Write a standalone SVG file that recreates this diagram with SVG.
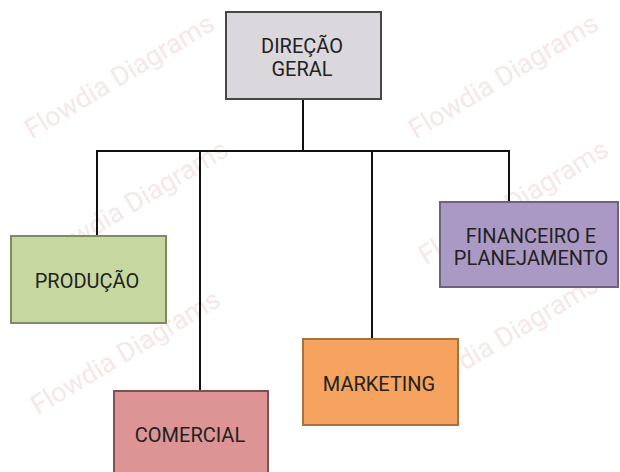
<svg xmlns="http://www.w3.org/2000/svg" width="620" height="472" viewBox="0 0 620 472">
  <style>
    .box { stroke-width: 2; }
    .label { font-family: Roboto, "Liberation Sans", sans-serif; font-size: 20px; fill: #222; text-anchor: middle; }
    .wm { font-family: Roboto, "Liberation Sans", sans-serif; font-size: 27px; fill: #efd6d6; text-anchor: middle; opacity: 0.55; }
    .conn { stroke: #111; stroke-width: 2; fill: none; stroke-linecap: square; }
  </style>
  <rect width="620" height="472" fill="#ffffff"/>

  <!-- background watermark -->
  <g id="watermark">
    <text class="wm" transform="translate(124 84) rotate(-31)">Flowdia Diagrams</text>
    <text class="wm" transform="translate(508 84) rotate(-31)">Flowdia Diagrams</text>
    <text class="wm" transform="translate(138 210) rotate(-31)">Flowdia Diagrams</text>
    <text class="wm" transform="translate(518 210) rotate(-31)">Flowdia Diagrams</text>
    <text class="wm" transform="translate(130 360) rotate(-31)">Flowdia Diagrams</text>
    <text class="wm" transform="translate(508 345) rotate(-31)">Flowdia Diagrams</text>
  </g>

  <!-- connectors -->
  <g id="connectors">
    <path class="conn" d="M303 99 V151"/>
    <path class="conn" d="M97 151 H509"/>
    <path class="conn" d="M97 151 V236"/>
    <path class="conn" d="M200 151 V391"/>
    <path class="conn" d="M372 151 V339"/>
    <path class="conn" d="M509 151 V202"/>
  </g>

  <g id="direcao-geral">
    <rect class="box" x="226" y="12" width="155" height="87" fill="#dad8dd" stroke="#474747"/>
    <text class="label" x="302" y="53">DIREÇÃO</text>
    <text class="label" x="302" y="76">GERAL</text>
  </g>

  <g id="producao">
    <rect class="box" x="11" y="236" width="155" height="87" fill="#c6d8a0" stroke="#7d8c62"/>
    <text class="label" x="87" y="288">PRODUÇÃO</text>
  </g>

  <g id="comercial">
    <rect class="box" x="114" y="391" width="154" height="90" fill="#dc9494" stroke="#7c5252"/>
    <text class="label" x="190" y="442">COMERCIAL</text>
  </g>

  <g id="marketing">
    <rect class="box" x="303" y="339" width="155" height="86" fill="#f5a35f" stroke="#a8723f"/>
    <text class="label" x="379" y="391">MARKETING</text>
  </g>

  <g id="financeiro-planejamento">
    <rect class="box" x="440" y="202" width="178" height="85" fill="#ab99c5" stroke="#6d6080"/>
    <text class="label" x="531" y="243">FINANCEIRO E</text>
    <text class="label" x="531" y="265">PLANEJAMENTO</text>
  </g>
</svg>
